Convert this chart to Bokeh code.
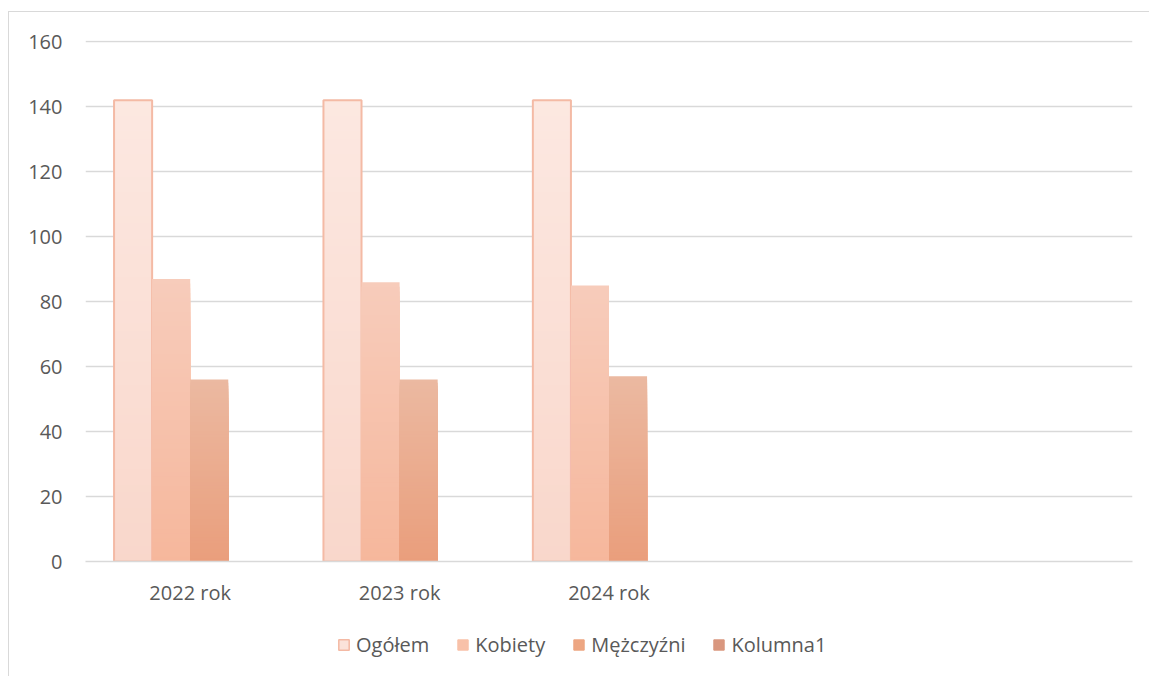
import numpy as np
from bokeh.plotting import figure
from bokeh.layouts import column
from bokeh.models import ColumnDataSource, FixedTicker, Legend, LegendItem, Range1d
from bokeh.embed import file_html
from bokeh.resources import INLINE

# ---- data ----
categories = ["2022 rok", "2023 rok", "2024 rok", "", ""]
series_names = ["Ogółem", "Kobiety", "Mężczyźni", "Kolumna1"]
ogolem = [142, 142, 142]
kobiety = [87, 86, 85]
mezczyzni = [56, 56, 57]
kolumna1 = []
y_ticks = [0, 20, 40, 60, 80, 100, 120, 140, 160]

# ---- styles ----
FONT = "Open Sans"
FS = "20px"
TXT = "#595959"
GRID = "#D9D9D9"
grad_top = ["#FCE8E1", "#F7CCBB", "#EBB9A1", "#DDA690"]
grad_bot = ["#F9D7CB", "#F6B79C", "#EA9E7C", "#D48C74"]
legend_fill = ["#FBE3DA", "#F8C1A9", "#EDA682", "#D9977F"]
N = 60


def hex2rgb(h):
    h = h.lstrip("#")
    return np.array([int(h[i:i + 2], 16) for i in (0, 2, 4)], dtype=float)


def lerp(c0, c1, t):
    a, b = hex2rgb(c0), hex2rgb(c1)
    c = a + (b - a) * t
    return "#%02X%02X%02X" % tuple(int(round(v)) for v in c)


n_cat = len(categories)
n_ser = len(series_names)
w = 1.0 / (n_ser + 1.5)

p = figure(width=1140, height=604, output_backend="svg", toolbar_location=None,
           x_range=Range1d(0, n_cat), y_range=Range1d(0, 160.4),
           min_border_left=76, min_border_top=28, min_border_right=17,
           min_border_bottom=55)
p.outline_line_color = None
p.background_fill_color = "white"
p.border_fill_color = "white"

values = [ogolem, kobiety, mezczyzni, kolumna1]
for j, vals in enumerate(values):
    xs, tops, cols = [], [], []
    for k in range(N, 0, -1):
        for i, v in enumerate(vals):
            xs.append(i + 0.5 + (j - (n_ser - 1) / 2) * w)
            tops.append(v * k / N)
            cols.append(lerp(grad_bot[j], grad_top[j], (k - 0.5) / N))
    src = ColumnDataSource(dict(x=xs, top=tops, color=cols))
    p.vbar(x="x", top="top", bottom=0, width=w, source=src,
           fill_color="color", line_color=None)
    if j == 0:
        osrc = ColumnDataSource(dict(x=[i + 0.5 + (j - (n_ser - 1) / 2) * w for i in range(len(vals))],
                                     top=list(vals)))
        p.vbar(x="x", top="top", bottom=0, width=w, source=osrc,
               fill_color=None, line_color="#F4BAA5", line_width=2)

# axes
p.xaxis.ticker = FixedTicker(ticks=[i + 0.5 for i in range(n_cat)])
p.xaxis.major_label_overrides = {i + 0.5: c for i, c in enumerate(categories)}
p.xaxis.axis_line_color = GRID
p.xaxis.axis_line_width = 1.3
p.xaxis.major_tick_line_color = None
p.xaxis.minor_tick_line_color = None
p.xaxis.major_label_standoff = 11
p.xaxis.major_label_text_font = FONT
p.xaxis.major_label_text_font_size = FS
p.xaxis.major_label_text_color = TXT

p.yaxis.ticker = FixedTicker(ticks=y_ticks)
p.yaxis.axis_line_color = None
p.yaxis.major_tick_line_color = None
p.yaxis.minor_tick_line_color = None
p.yaxis.major_label_standoff = 17
p.yaxis.major_label_text_font = FONT
p.yaxis.major_label_text_font_size = FS
p.yaxis.major_label_text_color = TXT

p.xgrid.grid_line_color = None
p.ygrid.grid_line_color = GRID
p.ygrid.grid_line_width = 1.3

# ---- legend in its own strip below the chart ----
lp = figure(width=1140, height=60, output_backend="svg", toolbar_location=None,
            x_range=Range1d(0, 1), y_range=Range1d(0, 1),
            min_border=0, outline_line_color=None)
lp.axis.visible = False
lp.grid.visible = False
lp.background_fill_color = "white"
lp.border_fill_color = "white"

items = []
for j, name in enumerate(series_names):
    r = lp.vbar(x=[np.nan], top=[np.nan], width=0.01, fill_color=legend_fill[j],
                line_color="#F4B9A4" if j == 0 else legend_fill[j],
                line_width=1.5 if j == 0 else 1)
    items.append(LegendItem(label=name, renderers=[r]))

legend = Legend(items=items, orientation="horizontal", location=(252, 18),
                label_text_font=FONT, label_text_font_size=FS,
                label_text_color=TXT, glyph_width=13, glyph_height=13,
                label_standoff=6, spacing=27, padding=0, margin=0,
                border_line_color=None, background_fill_alpha=0)
lp.add_layout(legend, "center")

layout = column(p, lp, spacing=0,
                styles={"margin-left": "8px", "margin-top": "11px",
                        "border-left": "1px solid #D9D9D9",
                        "border-top": "1px solid #D9D9D9"})

open("out.html", "w").write(file_html(layout, INLINE))
